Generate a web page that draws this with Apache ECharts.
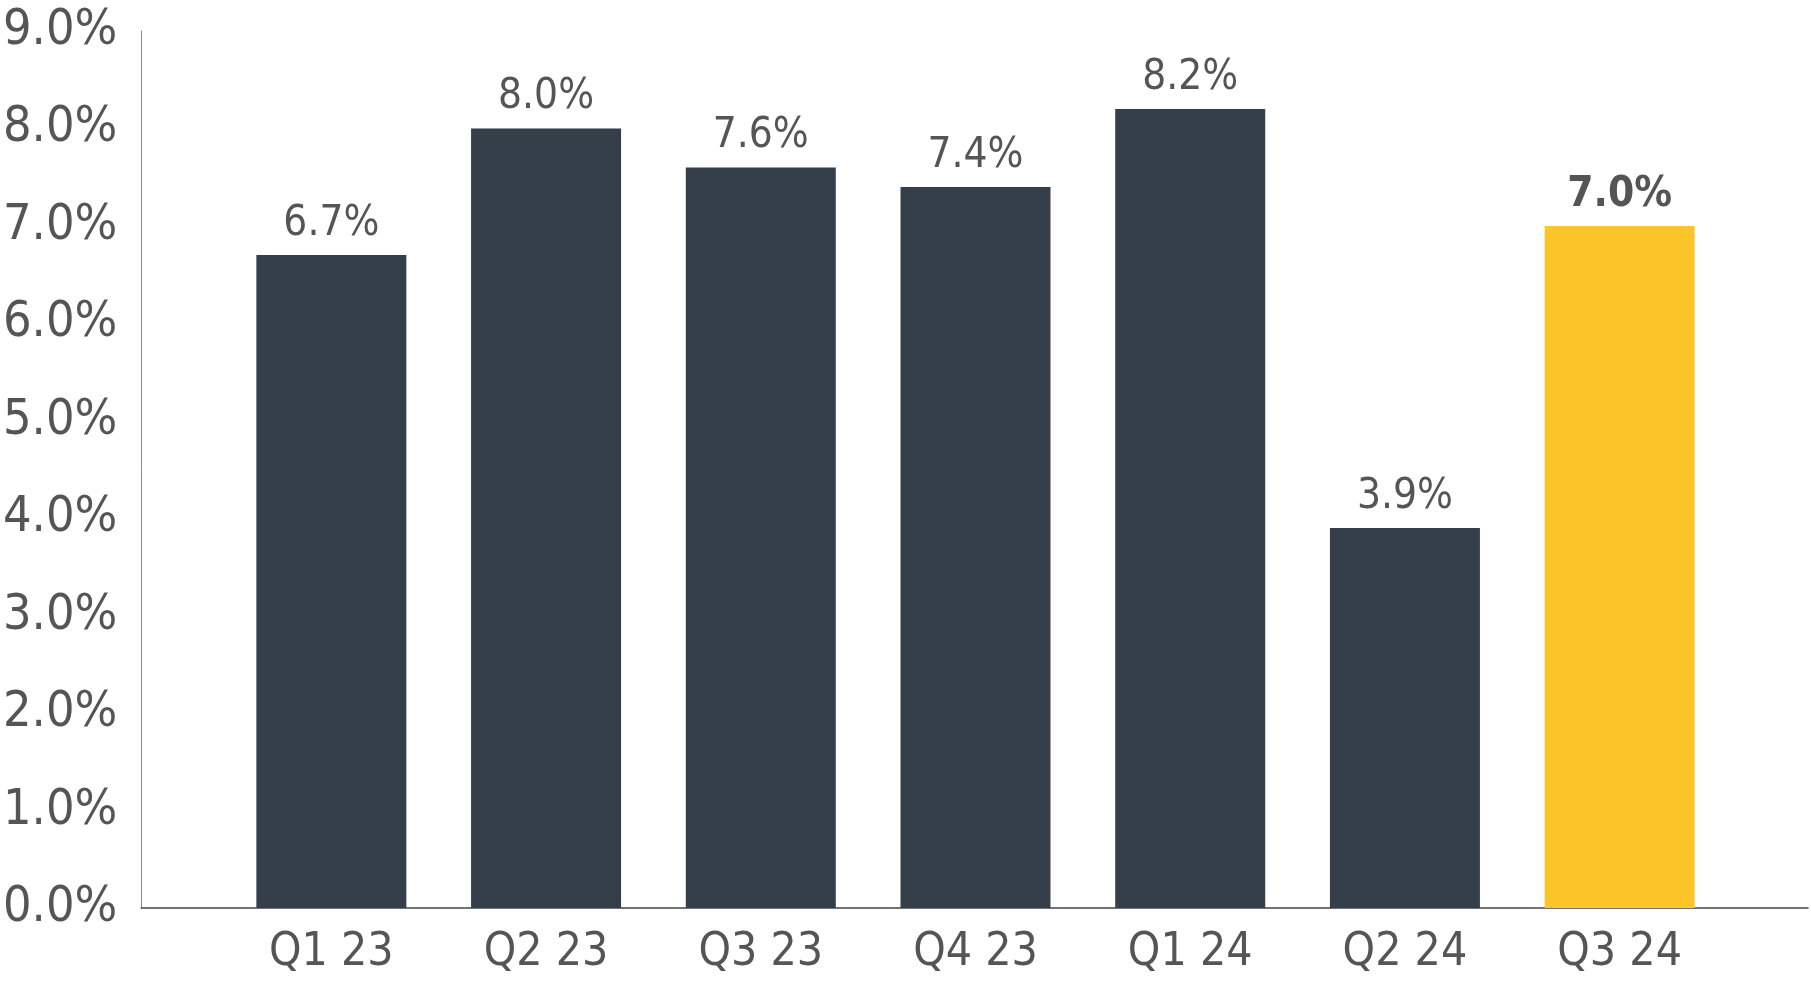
<!DOCTYPE html><html><head><meta charset="utf-8"><script src="https://cdn.jsdelivr.net/npm/echarts@6/dist/echarts.min.js"></script>
<style>html,body{margin:0;background:#fff}#c{width:1811px;height:987px}</style></head><body><div id="c"></div><script>
const categories=['Q1 23','Q2 23','Q3 23','Q4 23','Q1 24','Q2 24','Q3 24'];
const values=[6.7,8.0,7.6,7.4,8.2,3.9,7.0];
const highlightIndex=6;
const F='"DejaVu Sans Condensed","DejaVu Sans",sans-serif';
const chart=echarts.init(document.getElementById('c'));
chart.setOption({animation:false,
grid:[{left:224,right:84,top:31,bottom:79},{left:140,right:3,top:31,bottom:79}],
xAxis:[{type:'category',data:categories,gridIndex:0,axisLine:{show:false},axisTick:{show:false},
 axisLabel:{fontFamily:F,fontSize:46,color:'#555',margin:22}},
 {type:'value',gridIndex:1,min:0,max:1,axisLine:{show:true,lineStyle:{color:'#444',width:1.5}},axisTick:{show:false},axisLabel:{show:false},splitLine:{show:false}}],
yAxis:[{type:'value',gridIndex:0,min:0,max:9,interval:1,show:false},
 {type:'value',gridIndex:1,min:0,max:9,interval:1,axisLine:{show:true,lineStyle:{color:'#888',width:1}},axisTick:{show:false},splitLine:{show:false},
 axisLabel:{fontFamily:F,fontSize:50,color:'#555',margin:24,formatter:v=>v.toFixed(1)+'%'}}],
series:[{type:'bar',xAxisIndex:0,yAxisIndex:0,barWidth:150,
 data:values.map((v,i)=>({value:v,itemStyle:{color:i===highlightIndex?'#fcc52a':'#343f49'},
  label:{fontWeight:i===highlightIndex?'bold':'normal'}})),
 label:{show:true,position:'top',distance:10,fontFamily:F,fontSize:42,color:'#555',formatter:p=>p.value.toFixed(1)+'%'}}]
});
</script></body></html>
